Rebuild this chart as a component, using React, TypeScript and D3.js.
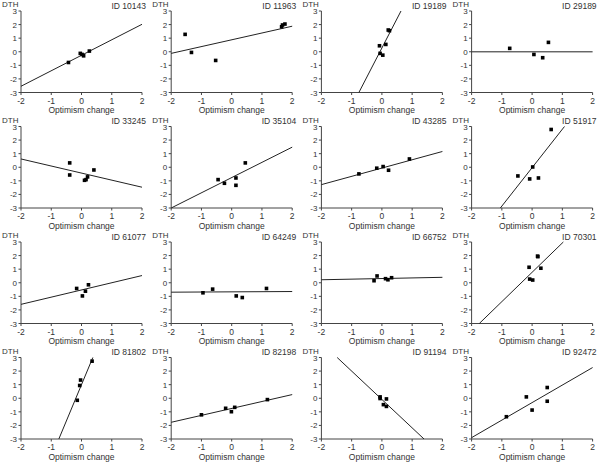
import React from "react";
import * as d3 from "d3";

const ids = ["ID 10143", "ID 11963", "ID 19189", "ID 29189", "ID 33245", "ID 35104", "ID 43285", "ID 51917",
  "ID 61077", "ID 64249", "ID 66752", "ID 70301", "ID 81802", "ID 82198", "ID 91194", "ID 92472"];

const pointsX: number[][] = [
  [-0.43, -0.04, 0.02, 0.07, 0.26],
  [-1.54, -1.33, -0.53, 1.65, 1.68, 1.76],
  [-0.08, -0.06, 0.03, 0.13, 0.21, 0.25],
  [-0.74, 0.06, 0.35, 0.54],
  [-0.39, -0.39, 0.10, 0.15, 0.2, 0.41],
  [-0.45, -0.24, 0.14, 0.14, 0.45],
  [-0.76, -0.17, 0.04, 0.22, 0.91],
  [0.63, -0.47, -0.08, 0.02, 0.21],
  [-0.16, 0.03, 0.13, 0.23],
  [-0.95, -0.63, 0.15, 0.35, 1.15],
  [-0.26, -0.16, 0.12, 0.2, 0.32],
  [-0.1, -0.08, 0.02, 0.18, 0.19, 0.29],
  [-0.14, -0.06, -0.03, 0.35],
  [-1.0, -0.2, -0.01, 0.1, 1.18],
  [-0.06, -0.06, 0.05, 0.15, 0.15],
  [-0.85, -0.19, 0.0, 0.5, 0.5],
];

const pointsY: number[][] = [
  [-0.79, -0.12, -0.2, -0.3, 0.05],
  [1.28, -0.05, -0.64, 1.84, 1.97, 2.04],
  [0.44, -0.12, -0.25, 0.54, 1.6, 1.55],
  [0.25, -0.2, -0.44, 0.69],
  [0.32, -0.57, -0.96, -0.91, -0.71, -0.2],
  [-0.91, -1.18, -0.79, -1.33, 0.32],
  [-0.49, -0.07, 0.05, -0.22, 0.61],
  [2.78, -0.64, -0.86, 0.02, -0.79],
  [-0.42, -0.97, -0.62, -0.15],
  [-0.74, -0.47, -0.97, -1.09, -0.42],
  [0.15, 0.5, 0.3, 0.22, 0.37],
  [1.14, 0.27, 0.2, 1.96, 1.92, 1.07],
  [-0.15, 0.94, 1.34, 2.73],
  [-1.22, -0.74, -0.99, -0.67, -0.1],
  [0.1, -0.02, -0.47, -0.05, -0.6],
  [-1.36, 0.1, -0.87, 0.79, -0.22],
];

const slopes = [1.14, 0.5, 4.31, 0.0, -0.52, 1.12, 0.61, 2.83, 0.53, 0.012, 0.045, 2.16, 5.34, 0.51, -2.09, 1.29];
const intercepts = [-0.26, 0.88, 0.28, -0.005, -0.43, -0.76, -0.06, -0.03, -0.53, -0.67, 0.31, 0.77, 1.0, -0.75, -0.09, -0.32];

const xTicks = [-2, -1, 0, 1, 2];
const yTicks = [3, 2, 1, 0, -1, -2, -3];
const xLabel = "Optimism change";
const yLabel = "DTH";

const W = 600, H = 463;
const colW = 150.2, rowH = 115.5;
const font = "'Liberation Sans', Arial, sans-serif";
const textColor = "#333";

function clipLine(m: number, b: number): [number, number, number, number] | null {
  let x1 = -2, x2 = 2;
  if (m !== 0) {
    const xa = (-3 - b) / m, xb = (3 - b) / m;
    const lo = Math.min(xa, xb), hi = Math.max(xa, xb);
    x1 = Math.max(x1, lo);
    x2 = Math.min(x2, hi);
  }
  if (x1 >= x2) return null;
  return [x1, m * x1 + b, x2, m * x2 + b];
}

function Panel({ i }: { i: number }) {
  const c = i % 4, r = Math.floor(i / 4);
  const x0 = c * colW, y0 = r * rowH;
  const xs = d3.scaleLinear().domain([-2, 2]).range([x0 + 21, x0 + 142]);
  const ys = d3.scaleLinear().domain([-3, 3]).range([y0 + 92.5, y0 + 11]);
  const seg = clipLine(slopes[i], intercepts[i]);
  return (
    <g>
      <text x={x0 + 2} y={y0 + 7} fontSize={8} fontFamily={font} fill={textColor}>{yLabel}</text>
      <text x={x0 + 146} y={y0 + 8.5} fontSize={8.5} fontFamily={font} fill={textColor} textAnchor="end">{ids[i]}</text>
      <line x1={xs(-2)} x2={xs(-2)} y1={ys(3)} y2={ys(-3)} stroke="#444" strokeWidth={1} />
      <line x1={xs(-2)} x2={xs(2)} y1={ys(-3)} y2={ys(-3)} stroke="#444" strokeWidth={1} />
      {yTicks.map((t) => (
        <g key={"y" + t}>
          <line x1={xs(-2) - 2.5} x2={xs(-2)} y1={ys(t)} y2={ys(t)} stroke="#444" />
          <text x={xs(-2) - 4} y={ys(t) + 3} fontSize={8} fontFamily={font} fill={textColor} textAnchor="end">{t}</text>
        </g>
      ))}
      {xTicks.map((t) => (
        <g key={"x" + t}>
          <line x1={xs(t)} x2={xs(t)} y1={ys(-3)} y2={ys(-3) + 2.5} stroke="#444" />
          <text x={xs(t)} y={ys(-3) + 11} fontSize={8.5} fontFamily={font} fill={textColor} textAnchor="middle">{t}</text>
        </g>
      ))}
      <text x={xs(0)} y={y0 + 113} fontSize={8.5} fontFamily={font} fill={textColor} textAnchor="middle">{xLabel}</text>
      {seg && (
        <line x1={xs(seg[0])} y1={ys(seg[1])} x2={xs(seg[2])} y2={ys(seg[3])} stroke="#222" strokeWidth={1} />
      )}
      {pointsX[i].map((px, k) => (
        <rect key={k} x={xs(px) - 1.8} y={ys(pointsY[i][k]) - 1.8} width={3.6} height={3.6} fill="#000" />
      ))}
    </g>
  );
}

export default function App() {
  return (
    <svg width={W} height={H} style={{ position: "absolute", left: 0, top: 0, background: "#fff" }}>
      <rect width={W} height={H} fill="#fff" />
      {ids.map((_, i) => <Panel key={i} i={i} />)}
    </svg>
  );
}
